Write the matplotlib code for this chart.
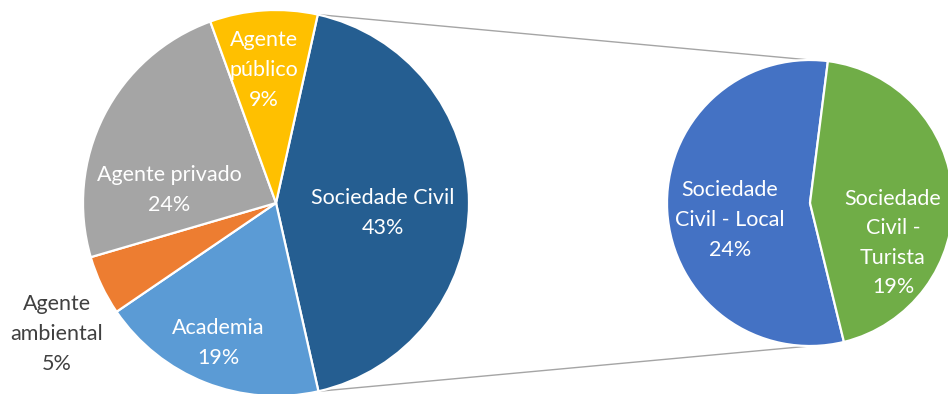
"""Pie-of-pie chart: Sociedade Civil split into Local / Turista"""

import matplotlib.pyplot as plt
import numpy as np

plt.rcParams["font.family"] = ["Lato", "DejaVu Sans"]

# Main pie
main_labels = ["Sociedade Civil", "Academia", "Agente\nambiental", "Agente privado", "Agente\npúblico"]
main_values = [43, 19, 5, 24, 9]
main_colors = ["#255E91", "#5B9BD5", "#ED7D31", "#A5A5A5", "#FFC000"]

# Secondary pie (breakdown of Sociedade Civil)
sub_labels = ["Sociedade\nCivil - Local", "Sociedade\nCivil -\nTurista"]
sub_values = [24, 19]
sub_colors = ["#4472C4", "#70AD47"]

W, H = 948, 394
fig = plt.figure(figsize=(W / 100, H / 100), dpi=100)
ax = fig.add_axes([0, 0, 1, 1])

main_c, main_r = (276, H - 203), 193
sub_c, sub_r = (810, H - 203), 143

wedges, _ = ax.pie(
    main_values,
    colors=main_colors,
    center=main_c,
    radius=main_r,
    startangle=77.5,
    counterclock=False,
    wedgeprops=dict(edgecolor="white", linewidth=1.6),
    frame=True,
)
sub_wedges, _ = ax.pie(
    sub_values,
    colors=sub_colors,
    center=sub_c,
    radius=sub_r,
    startangle=82.8,
    counterclock=True,
    wedgeprops=dict(edgecolor="white", linewidth=1.6),
    frame=True,
)
ax.set_xlim(0, W)
ax.set_ylim(0, H)
ax.set_aspect("equal")
ax.axis("off")

# connector lines from the split slice to top/bottom of secondary pie
w0 = wedges[0]
for ang, sy in [(w0.theta2, 1), (w0.theta1, -1)]:
    x0 = main_c[0] + main_r * np.cos(np.radians(ang))
    y0 = main_c[1] + main_r * np.sin(np.radians(ang))
    ax.plot([x0, sub_c[0]], [y0, sub_c[1] + sy * sub_r], color="#A5A5A5", lw=1.0, zorder=0)

# label positions (pixels from top-left)
main_pos = [(383, 213), (218, 343), (57, 334), (169, 190), (264, 70)]
sub_pos = [(730, 220), (893, 243)]

for lab, v, (px, py), col in zip(main_labels, main_values, main_pos, main_colors):
    tc = "#404040" if col == "#ED7D31" else "white"
    ax.text(px, H - py, f"{lab}\n{v}%", ha="center", va="center",
            fontsize=15.5, color=tc, linespacing=1.6)

for lab, v, (px, py) in zip(sub_labels, sub_values, sub_pos):
    ax.text(px, H - py, f"{lab}\n{v}%", ha="center", va="center",
            fontsize=15.5, color="white", linespacing=1.6)

fig.savefig("out.png", dpi=100)
